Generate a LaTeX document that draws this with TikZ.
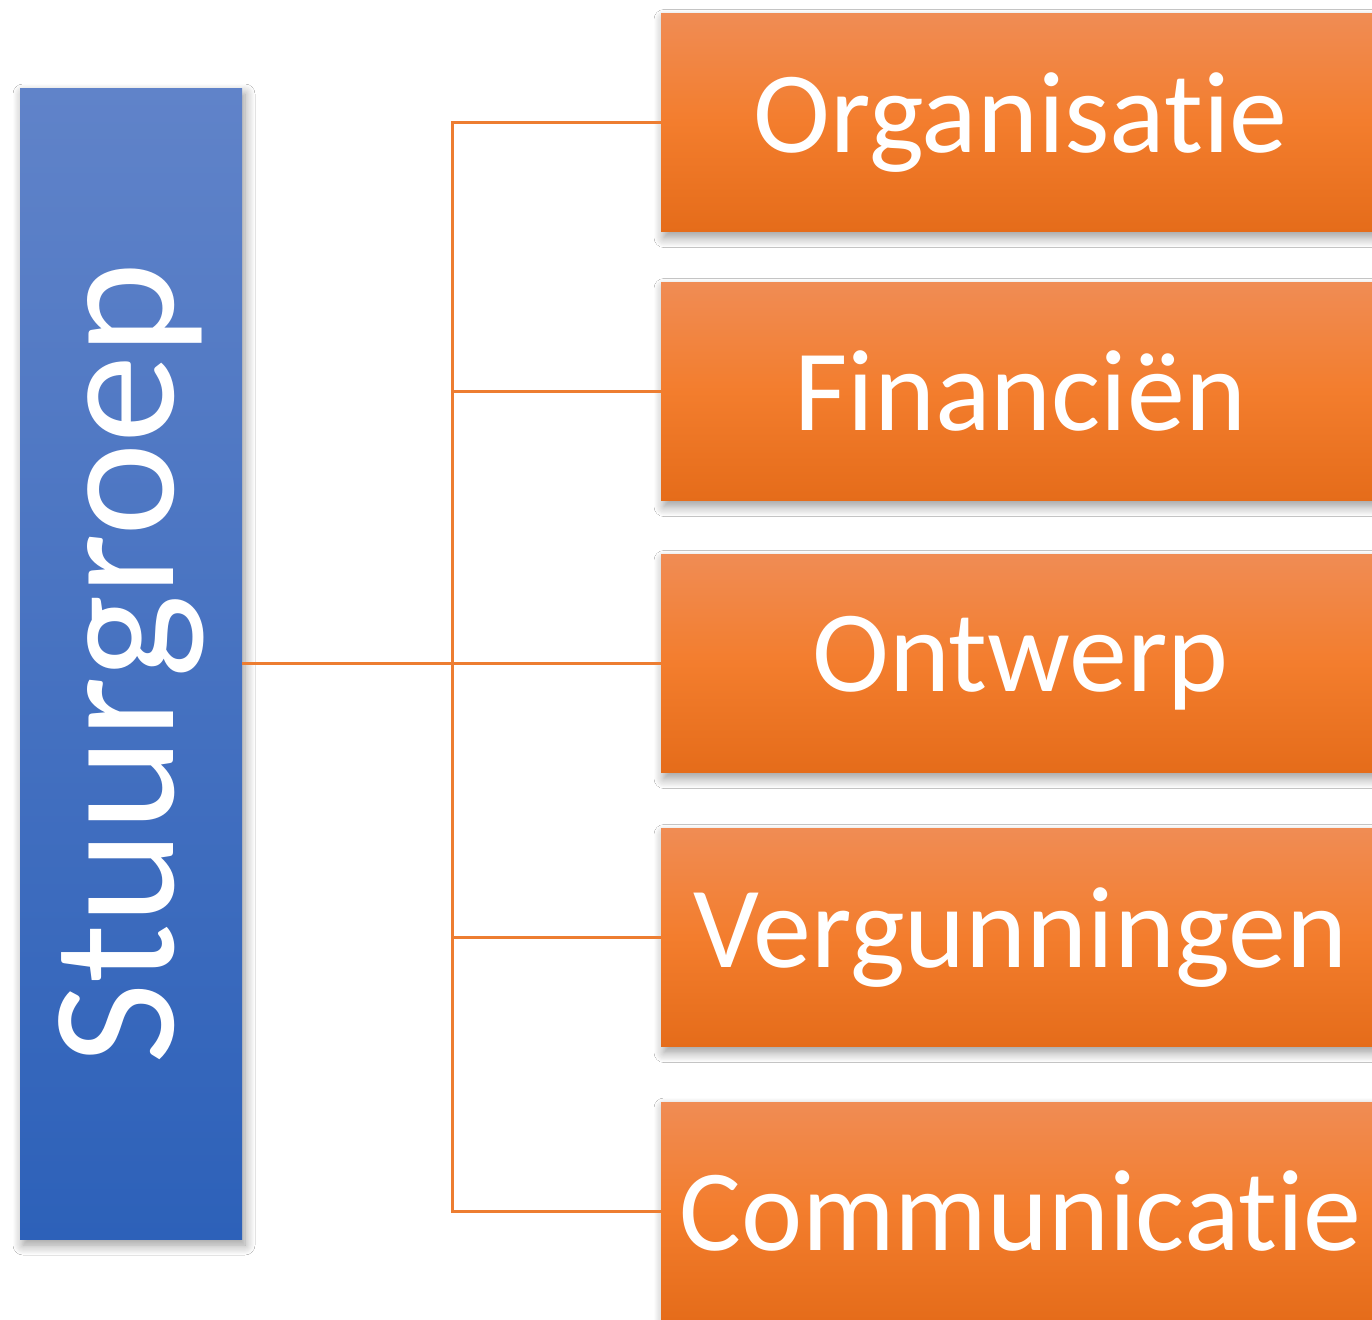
\documentclass[tikz,border=0pt]{standalone}
\usepackage{fontspec}
\setmainfont[Ligatures=NoCommon,RawFeature={-liga}]{Carlito}
\usetikzlibrary{shadows.blur}
\definecolor{linkorange}{RGB}{237,125,49}
\definecolor{orgtop}{RGB}{240,140,84}
\definecolor{orgmid}{RGB}{243,125,45}
\definecolor{orgbot}{RGB}{229,108,26}
\definecolor{bluetop}{RGB}{96,131,201}
\definecolor{bluebot}{RGB}{45,97,185}
\tikzset{
  px/.style={x=0.5pt,y=-0.5pt},
  softshadow/.style={blur shadow={shadow xshift=1.5pt, shadow yshift=-3pt, shadow blur radius=5pt, shadow blur steps=10, shadow opacity=40}},
  bluebox/.style={rectangle, inner sep=0pt, minimum width=111pt, minimum height=575.5pt,
    top color=bluetop, bottom color=bluebot, text=white, softshadow},
  orangebox/.style={rectangle, inner sep=0pt, minimum width=359.5pt, minimum height=109pt,
    top color=orgtop, bottom color=orgbot, middle color=orgmid, text=white,
    font=\fontsize{58pt}{60pt}\selectfont, softshadow},
  link/.style={draw=linkorange, line width=1.5pt}
}
\begin{document}
\begin{tikzpicture}[px]
\useasboundingbox (0,0) rectangle (1372,1319);
\clip (0,0) rectangle (1372,1319);
\fill[white] (0,0) rectangle (1372,1319);
\node[bluebox] (sg) at (131,663.5) {\raisebox{-4pt}{\rotatebox{90}{\fontsize{88.5pt}{90pt}\selectfont Stuurgroep}}};
\node[orangebox] (o1) at (1020.5,122.5) {\raisebox{-2pt}{Organisatie}};
\node[orangebox] (o2) at (1020.5,391.5) {\raisebox{-2pt}{Financiën}};
\node[orangebox] (o3) at (1020.5,663.5) {\raisebox{-2pt}{Ontwerp}};
\node[orangebox] (o4) at (1020.5,937.5) {\raisebox{-2pt}{Vergunningen}};
\node[orangebox] (o5) at (1020.5,1211) {\raisebox{-2pt}{Communicatie}};
\coordinate (bus) at (452,663.5);
\draw[link] (sg.east) -- (bus);
\draw[link] (o1.west) -| (bus);
\draw[link] (o2.west) -| (bus);
\draw[link] (o3.west) -| (bus);
\draw[link] (o4.west) -| (bus);
\draw[link] (o5.west) -| (bus);
\end{tikzpicture}
\end{document}
